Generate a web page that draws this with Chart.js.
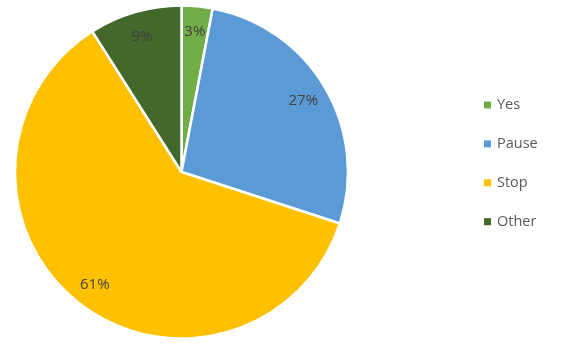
<!DOCTYPE html>
<html>
<head>
<meta charset="utf-8">
<script src="https://cdn.jsdelivr.net/npm/chart.js@4/dist/chart.umd.min.js"></script>
<style>
  html, body { margin: 0; padding: 0; background: #fff; }
  #wrap { width: 577px; height: 352px; }
</style>
</head>
<body>
<div id="wrap"><canvas id="pie" width="577" height="352"></canvas></div>
<script>
// data
var categories = ["Yes", "Pause", "Stop", "Other"];
var values = [3, 27, 61, 9];
var colors = ["#70AD47", "#5B9BD5", "#FFC000", "#43682B"];

var fontName = "'Open Sans', sans-serif";

// percent labels inside the slices, near the edge
var sliceLabels = {
  id: 'sliceLabels',
  afterDatasetsDraw: function(chart) {
    var ctx = chart.ctx;
    var meta = chart.getDatasetMeta(0);
    var total = values.reduce(function(a, b) { return a + b; }, 0);
    ctx.save();
    ctx.font = '15px ' + fontName;
    ctx.fillStyle = '#404040';
    ctx.textAlign = 'center';
    ctx.textBaseline = 'middle';
    meta.data.forEach(function(arc, i) {
      var p = arc.getProps(['x', 'y', 'startAngle', 'endAngle', 'outerRadius']);
      var mid = (p.startAngle + p.endAngle) / 2;
      var d = p.outerRadius * 0.85;
      var txt = Math.round(values[i] / total * 100) + '%';
      ctx.fillText(txt, p.x + Math.cos(mid) * d, p.y + Math.sin(mid) * d + 1);
    });
    ctx.restore();
  }
};

// legend on the right, excel style
var sideLegend = {
  id: 'sideLegend',
  afterDraw: function(chart) {
    var ctx = chart.ctx;
    var x = 484, y0 = 105, step = 38.9;
    ctx.save();
    ctx.font = '14.5px ' + fontName;
    ctx.textBaseline = 'middle';
    chart.data.labels.forEach(function(lab, i) {
      var y = y0 + i * step;
      ctx.fillStyle = chart.data.datasets[0].backgroundColor[i];
      ctx.fillRect(x, y - 3.5, 7, 7);
      ctx.fillStyle = '#595959';
      ctx.fillText(lab, x + 13, y);
    });
    ctx.restore();
  }
};

var chart = new Chart(document.getElementById('pie'), {
  type: 'pie',
  data: {
    labels: categories,
    datasets: [{
      data: values,
      backgroundColor: colors,
      borderColor: '#ffffff',
      borderWidth: 2.5,
      hoverOffset: 0
    }]
  },
  options: {
    responsive: false,
    animation: false,
    radius: 166.5,
    layout: { padding: { left: 0, right: 214, top: 0, bottom: 8 } },
    plugins: {
      legend: { display: false },
      tooltip: { enabled: false }
    }
  },
  plugins: [sliceLabels, sideLegend]
});
</script>
</body>
</html>
